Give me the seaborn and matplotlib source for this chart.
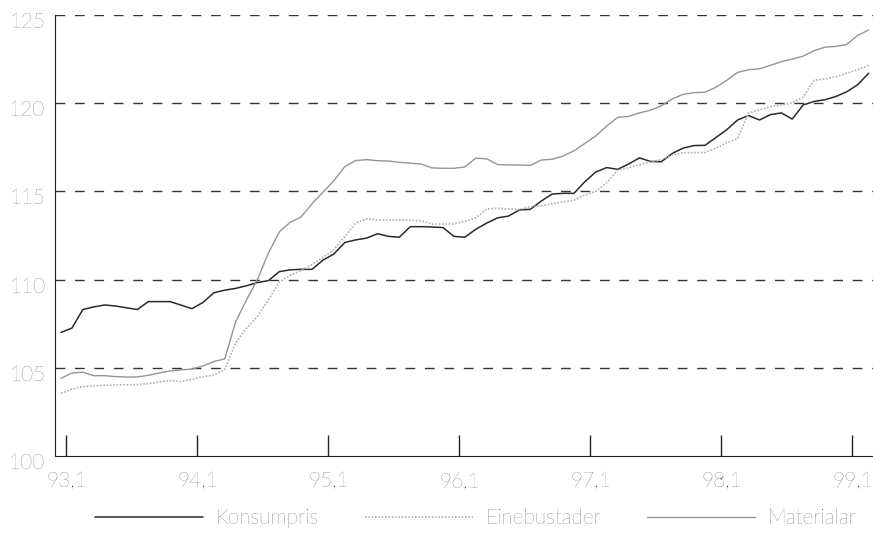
import numpy as np
import pandas as pd
import matplotlib
matplotlib.use("Agg")
import matplotlib.pyplot as plt
import matplotlib.transforms as mtransforms
import seaborn as sns

# monthly index values, 93,1 .. 99,3
konsumpris = [107.0, 107.25, 108.3, 108.45, 108.56, 108.5, 108.4, 108.3, 108.75, 108.75,
              108.75, 108.55, 108.35, 108.7, 109.25, 109.4, 109.5, 109.65, 109.83, 109.94,
              110.45, 110.55, 110.58, 110.58, 111.1, 111.45, 112.1, 112.25, 112.35, 112.6,
              112.45, 112.4, 113.0, 113.0, 112.98, 112.95, 112.45, 112.4, 112.85, 113.2,
              113.5, 113.6, 113.95, 113.98, 114.45, 114.85, 114.89, 114.89, 115.55, 116.1,
              116.35, 116.25, 116.55, 116.9, 116.7, 116.68, 117.15, 117.45, 117.6, 117.61,
              118.05, 118.5, 119.05, 119.3, 119.05, 119.35, 119.45, 119.1, 119.9, 120.1,
              120.2, 120.38, 120.65, 121.05, 121.7]
einebustader = [103.55, 103.78, 103.93, 103.97, 104.0, 104.03, 104.03, 104.05, 104.1, 104.2,
                104.28, 104.22, 104.35, 104.5, 104.58, 104.9, 106.4, 107.25, 107.9, 108.85,
                109.85, 110.25, 110.5, 110.85, 111.25, 111.7, 112.43, 113.2, 113.45, 113.38,
                113.38, 113.38, 113.36, 113.33, 113.15, 113.15, 113.15, 113.3, 113.5, 114.0,
                114.05, 114.0, 113.98, 114.12, 114.18, 114.3, 114.4, 114.5, 114.8, 115.0,
                115.5, 116.2, 116.35, 116.5, 116.67, 116.8, 117.05, 117.2, 117.2, 117.2,
                117.45, 117.75, 118.0, 119.45, 119.62, 119.8, 119.9, 120.02, 120.35, 121.3,
                121.38, 121.5, 121.7, 121.9, 122.15]
materialar = [104.4, 104.7, 104.75, 104.55, 104.55, 104.5, 104.47, 104.48, 104.57, 104.7,
              104.82, 104.88, 104.92, 105.1, 105.35, 105.5, 107.6, 108.85, 110.0, 111.5,
              112.7, 113.25, 113.55, 114.3, 114.95, 115.6, 116.4, 116.75, 116.8, 116.74,
              116.72, 116.65, 116.6, 116.55, 116.33, 116.31, 116.31, 116.38, 116.88, 116.85,
              116.52, 116.5, 116.5, 116.47, 116.78, 116.82, 117.0, 117.3, 117.72, 118.15,
              118.7, 119.2, 119.25, 119.45, 119.6, 119.85, 120.25, 120.5, 120.6, 120.62,
              120.9, 121.3, 121.75, 121.9, 121.95, 122.15, 122.35, 122.5, 122.67, 122.98,
              123.18, 123.22, 123.33, 123.85, 124.15]
tick_labels = ["93,1", "94,1", "95,1", "96,1", "97,1", "98,1", "99,1"]
y_ticks = [100, 105, 110, 115, 120, 125]

month = np.arange(len(konsumpris))
df = pd.DataFrame({"month": month, "Konsumpris": konsumpris,
                   "Einebustader": einebustader, "Materialar": materialar})

sns.set_style("white")
plt.rcParams["font.family"] = ["Lato", "DejaVu Sans"]
plt.rcParams["font.weight"] = "light"

fig = plt.figure(figsize=(8.73, 5.37), dpi=100)
ax = fig.add_axes([0.063, 0.151, 0.937, 0.821])

styles = {"Konsumpris": dict(color="#2a2a2a", lw=1.1, ls="-"),
          "Einebustader": dict(color="#b0b0b0", lw=1.2, ls=(0, (1, 1))),
          "Materialar": dict(color="#959595", lw=1.0, ls="-")}
for name, st in styles.items():
    sns.lineplot(data=df, x="month", y=name, ax=ax, label=name,
                 color=st["color"], linewidth=st["lw"], linestyle=st["ls"])

for v in y_ticks[1:]:
    ax.axhline(v, color="#333333", lw=1.0, ls=(0, (7, 7)), zorder=0)

ax.set_xlim(-0.55, 74.4)
ax.set_ylim(100, 125)
ax.set_xticks([0.5 + 12 * k for k in range(len(tick_labels))])
ax.set_xticklabels(tick_labels)
ax.set_yticks(y_ticks)
ax.set_yticklabels([str(v) for v in y_ticks])
ax.tick_params(axis="x", bottom=True, direction="in", length=15, width=1, color="#222222",
               labelsize=15, labelcolor="#333333", pad=11)
ax.tick_params(axis="y", left=False, length=0, labelsize=15, labelcolor="#333333", pad=7)
ax.set_xlabel("")
ax.set_ylabel("")

# y labels sit a little below their gridlines
shift = mtransforms.ScaledTranslation(0, -5 / 100, fig.dpi_scale_trans)
for lab in ax.get_yticklabels():
    lab.set_transform(lab.get_transform() + shift)

sns.despine(ax=ax, top=True, right=True)
ax.spines["left"].set_color("#222222")
ax.spines["bottom"].set_color("#222222")

handles, labels = ax.get_legend_handles_labels()
ax.get_legend().remove()
fig.legend(handles, labels, loc="lower center", bbox_to_anchor=(0.545, -0.018),
           ncol=3, frameon=False, fontsize=15, handlelength=5.2,
           columnspacing=2.2, handletextpad=0.6, labelcolor="#333333")

fig.savefig("out.png", dpi=100)
